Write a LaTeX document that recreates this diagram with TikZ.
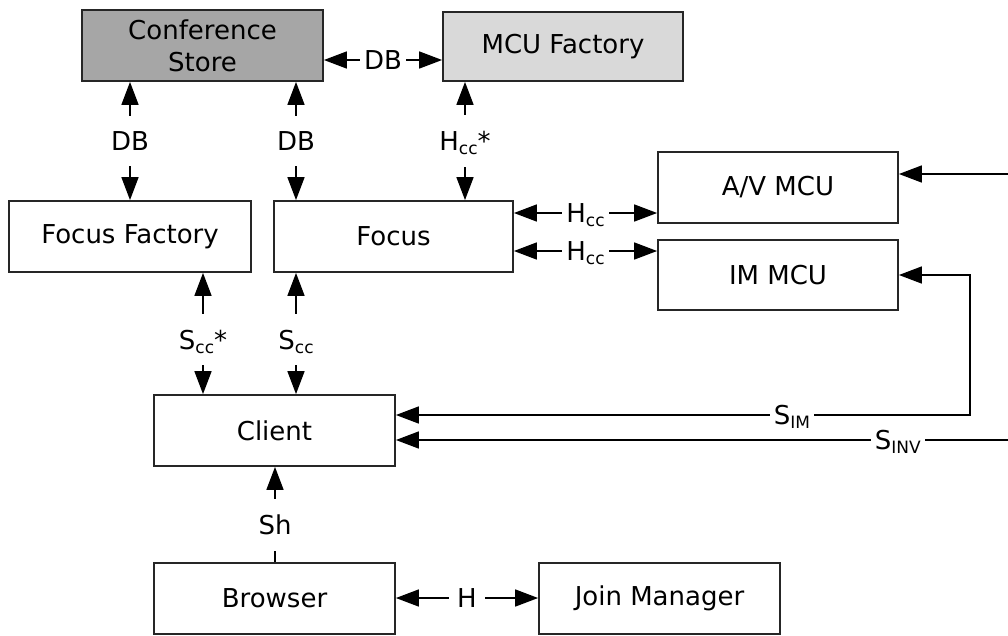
\documentclass[tikz,border=0pt]{standalone}
\usepackage{fontspec}
\setmainfont{DejaVu Sans}
\usetikzlibrary{arrows.meta}
\definecolor{storegray}{HTML}{A6A6A6}
\definecolor{factgray}{HTML}{D9D9D9}
\newcommand\lsub[1]{\raisebox{-4pt}{\fontsize{17}{17}\selectfont #1}}
\tikzset{
  box/.style={draw=black!85, line width=1.8pt, rectangle, minimum width=241pt, minimum height=71pt,
    font=\fontsize{26}{32}\selectfont, align=center, inner sep=0pt},
  conn/.style={line width=1.6pt, black},
  dbl/.style={conn, {Triangle[length=23pt,width=17pt]}-{Triangle[length=23pt,width=17pt]}},
  one/.style={conn, -{Triangle[length=23pt,width=17pt]}},
  vlbl/.style={fill=white, inner xsep=3pt, inner ysep=16pt, text depth=0pt, font=\fontsize{26}{32}\selectfont},
  hlbl/.style={fill=white, inner xsep=4pt, inner ysep=2pt, text depth=0pt, font=\fontsize{26}{32}\selectfont},
}
\begin{document}
\begin{tikzpicture}[x=1pt,y=-1pt]
\useasboundingbox (0,0) rectangle (1008,635);
% nodes
\node[box, fill=storegray] (cs) at (202.5,45.5) {Conference\\Store};
\node[box, fill=factgray, minimum width=240pt, minimum height=69pt] (mcuf) at (563,46.5) {MCU Factory};
\node[box, minimum width=242pt] (ff) at (130,236.5) {Focus Factory};
\node[box, minimum width=239pt] (focus) at (393.5,236.5) {Focus};
\node[box, minimum width=240pt] (av) at (778,187.5) {A/V MCU};
\node[box, minimum width=240pt, minimum height=70pt] (im) at (778,275) {IM MCU};
\node[box] (client) at (274.5,430.5) {Client};
\node[box] (browser) at (274.5,598.5) {Browser};
\node[box] (jm) at (659.5,598.5) {Join Manager};
\coordinate (avin) at (1008,174);
\coordinate (invin) at (1008,440);
\coordinate (imturn) at (970,415);
% connectors
\draw[dbl] (cs.east |- 0,60) -- node[hlbl]{DB} (mcuf.west |- 0,60);
\draw[dbl] (cs.south -| 130,0) -- node[vlbl]{DB} (ff.north -| 130,0);
\draw[dbl] (cs.south -| 296,0) -- node[vlbl]{DB} (focus.north -| 296,0);
\draw[dbl] (mcuf.south -| 465,0) -- node[vlbl]{H\lsub{cc}*} (focus.north -| 465,0);
\draw[dbl] (focus.east |- 0,213) -- node[hlbl]{H\lsub{cc}} (av.west |- 0,213);
\draw[dbl] (focus.east |- 0,251) -- node[hlbl]{H\lsub{cc}} (im.west |- 0,251);
\draw[one] (avin) -- (av.east |- avin);
\draw[dbl] (ff.south -| 203,0) -- node[vlbl,pos=0.55]{S\lsub{cc}*} (client.north -| 203,0);
\draw[dbl] (focus.south -| 296,0) -- node[vlbl,pos=0.55]{S\lsub{cc}} (client.north -| 296,0);
\draw[dbl] (im.east) -| (imturn) -- node[hlbl,pos=0.31]{S\lsub{IM}} (client.east |- imturn);
\draw[one] (invin) -- node[hlbl,pos=0.18]{S\lsub{INV}} (client.east |- invin);
\draw[one] (browser.north -| 275,0) -- node[vlbl,pos=0.39]{Sh} (client.south -| 275,0);
\draw[dbl] (browser.east |- 0,598) -- node[hlbl,inner xsep=8pt]{H} (jm.west |- 0,598);
\end{tikzpicture}
\end{document}
